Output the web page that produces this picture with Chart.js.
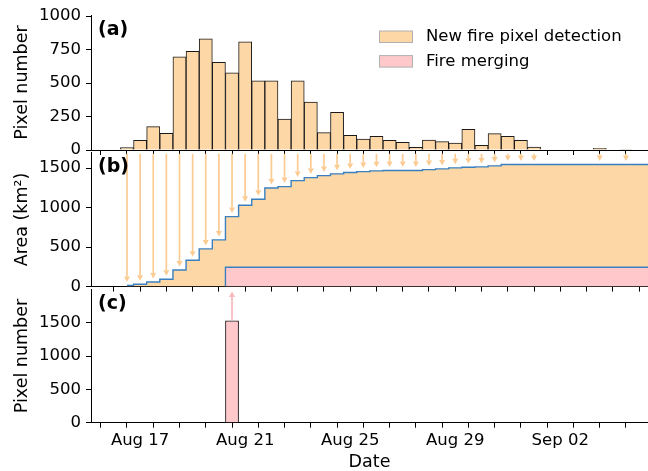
<!DOCTYPE html>
<html>
<head>
<meta charset="utf-8">
<script src="https://cdn.jsdelivr.net/npm/chart.js@4.4.0/dist/chart.umd.min.js"></script>
<style>
    body { margin: 0; background: #fff; }
    #wrap { position: relative; width: 648px; height: 471px; }
    #wrap canvas { position: absolute; left: 0; top: 0; }
</style>
</head>
<body>
<div id="wrap">
    <canvas id="chartA" width="648" height="471"></canvas>
    <canvas id="chartB" width="648" height="471"></canvas>
    <canvas id="chartC" width="648" height="471"></canvas>
</div>
<script>
// Half-day bins, x = day of August (Sep 02 = 33)
const binDays = [16.5, 17, 17.5, 18, 18.5, 19, 19.5, 20, 20.5, 21, 21.5, 22, 22.5, 23, 23.5, 24,
    24.5, 25, 25.5, 26, 26.5, 27, 27.5, 28, 28.5, 29, 29.5, 30, 30.5, 31, 31.5, 32,
    32.5, 33, 33.5, 34, 34.5, 35, 35.5, 36, 36.5];
// (a) new fire pixels per bin
const newPixels = [18, 73, 175, 125, 695, 737, 830, 655, 577, 807, 517, 517, 230, 517, 357, 130,
    282, 110, 82, 102, 72, 57, 20, 75, 62, 52, 155, 35, 122, 102, 72, 22,
    0, 0, 0, 0, 12, 0, 4, 0, 0];
// (b) cumulative fire area, km2
const burnedArea = [13, 30, 59, 93, 211, 334, 477, 591, 886, 1030, 1106, 1249, 1266, 1342, 1380, 1405,
    1427, 1445, 1456, 1465, 1469, 1469, 1469, 1481, 1490, 1503, 1511, 1515, 1528, 1545, 1545, 1545,
    1545, 1545, 1545, 1545, 1545, 1545, 1545, 1545, 1545];
// (c) merged pixels per bin
const mergePixels = [0, 0, 0, 0, 0, 0, 0, 0, 1530, 0, 0, 0, 0, 0, 0, 0,
    0, 0, 0, 0, 0, 0, 0, 0, 0, 0, 0, 0, 0, 0, 0, 0,
    0, 0, 0, 0, 0, 0, 0, 0, 0];
const mergeDay = 20.5;
const mergeArea = 245;
const binHalf = 0.25;

const dayTicks = [16, 17, 18, 19, 20, 21, 22, 23, 24, 25, 26, 27, 28, 29, 30, 31, 32, 33, 34, 35, 36];
const tickDays = [17, 21, 25, 29, 33];
const tickLabels = ['Aug 17', 'Aug 21', 'Aug 25', 'Aug 29', 'Sep 02'];
const yTicksA = [0, 250, 500, 750, 1000];
const yTicksB = [0, 500, 1000, 1500];
const legendLabels = ['New fire pixel detection', 'Fire merging'];

const ORANGE = '#fdd8a6';
const PINK = '#ffc9cb';
const BLUE = '#3a80c0';
const TICK_FONT = { family: 'DejaVu Sans', size: 16.5 };
const TITLE_FONT = { family: 'DejaVu Sans', size: 17.5 };

Chart.defaults.font.family = 'DejaVu Sans';
Chart.defaults.color = '#000';

function xAxis(showLabels) {
    return {
        type: 'linear', min: 15.13, max: 36.34, offset: false,
        afterBuildTicks: s => { s.ticks = dayTicks.map(v => ({ value: v })); },
        afterFit: s => { s.height = showLabels ? 48.3 : 6; },
        grid: { drawOnChartArea: false, drawTicks: true, tickLength: 5, color: '#000' },
        border: { color: '#000', width: 1 },
        ticks: {
            display: showLabels, autoSkip: false, maxRotation: 0, padding: 3.5, color: '#000', font: TICK_FONT,
            callback: v => { const i = tickDays.indexOf(v); return i >= 0 ? tickLabels[i] : ''; }
        },
        title: { display: showLabels, text: 'Date', color: '#000', font: TITLE_FONT, padding: { top: 0, bottom: -1.5 } }
    };
}

function yAxis(max, ticks, title) {
    return {
        min: 0, max: max,
        afterBuildTicks: s => { s.ticks = ticks.map(v => ({ value: v })); },
        afterFit: s => { s.width = 91; },
        grid: { drawOnChartArea: false, tickLength: 5, color: '#000' },
        border: { color: '#000', width: 1 },
        ticks: { padding: 5, color: '#000', font: TICK_FONT, callback: v => String(v) },
        title: { display: true, text: title, color: '#000', font: TITLE_FONT, padding: { top: 11.5, bottom: 0 } }
    };
}

function drawArrow(ctx, px, y0, y1) {
    const dir = Math.sign(y1 - y0);
    const head = 5.5, half = 3;
    ctx.beginPath();
    ctx.moveTo(px, y0);
    ctx.lineTo(px, y1 - dir * head);
    ctx.stroke();
    ctx.beginPath();
    ctx.moveTo(px, y1);
    ctx.lineTo(px - half, y1 - dir * head);
    ctx.lineTo(px + half, y1 - dir * head);
    ctx.closePath();
    ctx.fill();
}

// panel letter + optional legend
const panelDecor = {
    id: 'panelDecor',
    afterDraw(chart, args, opts) {
        const { ctx, chartArea } = chart;
        ctx.save();
        ctx.fillStyle = '#000';
        ctx.font = 'bold 19px "DejaVu Sans"';
        ctx.textBaseline = 'middle';
        ctx.fillText(opts.tag, chartArea.left + 7, chartArea.top + 15);
        if (opts.legend) {
            const colors = [ORANGE, PINK];
            ctx.font = '16.5px "DejaVu Sans"';
            legendLabels.forEach((lab, i) => {
                const y = 31 + i * 24.6;
                ctx.fillStyle = colors[i];
                ctx.fillRect(379.5, y, 33, 11.5);
                ctx.strokeStyle = '#b0b0b0';
                ctx.lineWidth = 1;
                ctx.strokeRect(379.5, y, 33, 11.5);
                ctx.fillStyle = '#000';
                ctx.fillText(lab, 426, y + 6);
            });
        }
        ctx.restore();
    }
};

// arrows from the top of (b) down to the area curve
const growthArrows = {
    id: 'growthArrows',
    afterDatasetsDraw(chart) {
        const { ctx, chartArea, scales: { x, y } } = chart;
        ctx.save();
        ctx.strokeStyle = '#fbcb92';
        ctx.fillStyle = '#fbcb92';
        ctx.lineWidth = 1.7;
        binDays.forEach((d, i) => {
            if (!newPixels[i]) return;
            const px = x.getPixelForValue(d);
            drawArrow(ctx, px, chartArea.top + 1.5, y.getPixelForValue(burnedArea[i]) - 3.5);
        });
        ctx.restore();
    }
};

// arrow from the merging bar in (c) up to (b)
const mergeArrow = {
    id: 'mergeArrow',
    afterDatasetsDraw(chart) {
        const { ctx, chartArea, scales: { x, y } } = chart;
        const i = binDays.indexOf(mergeDay);
        ctx.save();
        ctx.strokeStyle = '#f8b8bc';
        ctx.fillStyle = '#f8b8bc';
        ctx.lineWidth = 1.7;
        drawArrow(ctx, x.getPixelForValue(mergeDay), y.getPixelForValue(mergePixels[i]) - 1, chartArea.top + 2);
        ctx.restore();
    }
};

const common = {
    responsive: false,
    animation: false,
    devicePixelRatio: 1,
    events: [],
    plugins: { legend: { display: false }, tooltip: { enabled: false } }
};

new Chart(document.getElementById('chartA'), {
    type: 'bar',
    data: {
        datasets: [{
            data: binDays.map((d, i) => ({ x: d, y: newPixels[i] })),
            backgroundColor: ORANGE,
            borderColor: '#1a1a1a',
            borderWidth: 1,
            barPercentage: 1,
            categoryPercentage: 1
        }]
    },
    options: {
        ...common,
        layout: { padding: { top: 15, bottom: 315, left: 0, right: 0 } },
        scales: { x: xAxis(false), y: yAxis(1008, yTicksA, 'Pixel number') },
        plugins: { ...common.plugins, panelDecor: { tag: '(a)', legend: true } }
    },
    plugins: [panelDecor]
});

new Chart(document.getElementById('chartB'), {
    type: 'line',
    data: {
        datasets: [{
            data: binDays.map((d, i) => ({ x: d, y: burnedArea[i] })),
            stepped: 'middle',
            fill: 'origin',
            backgroundColor: ORANGE,
            borderColor: BLUE,
            borderWidth: 1.4,
            pointRadius: 0,
            order: 2
        }, {
            data: [
                { x: mergeDay - binHalf, y: 0 },
                { x: mergeDay - binHalf, y: mergeArea },
                { x: binDays[binDays.length - 1], y: mergeArea }
            ],
            fill: 'origin',
            backgroundColor: PINK,
            borderColor: BLUE,
            borderWidth: 1.4,
            pointRadius: 0,
            order: 1
        }]
    },
    options: {
        ...common,
        layout: { padding: { top: 152.3, bottom: 178.4, left: 0, right: 0 } },
        scales: { x: xAxis(false), y: yAxis(1700, yTicksB, 'Area (km²)') },
        plugins: { ...common.plugins, panelDecor: { tag: '(b)' } }
    },
    plugins: [growthArrows, panelDecor]
});

new Chart(document.getElementById('chartC'), {
    type: 'bar',
    data: {
        datasets: [{
            data: binDays.map((d, i) => ({ x: d, y: mergePixels[i] })),
            backgroundColor: PINK,
            borderColor: '#1a1a1a',
            borderWidth: 1,
            barPercentage: 1,
            categoryPercentage: 1
        }]
    },
    options: {
        ...common,
        layout: { padding: { top: 289.4, bottom: 0, left: 0, right: 0 } },
        scales: { x: xAxis(true), y: yAxis(2000, yTicksB, 'Pixel number') },
        plugins: { ...common.plugins, panelDecor: { tag: '(c)' } }
    },
    plugins: [mergeArrow, panelDecor]
});
</script>
</body>
</html>
